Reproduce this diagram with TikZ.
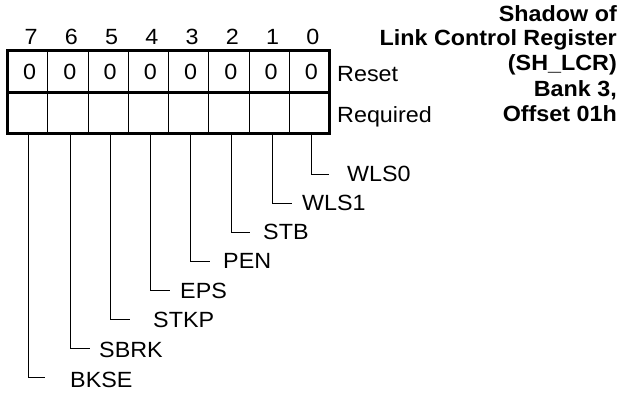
\documentclass[tikz,border=0pt]{standalone}
\usepackage{fontspec}
\setmainfont{Liberation Sans}[FakeStretch=1.06]
\begin{document}
\begin{tikzpicture}[x=1pt,y=-1pt,
  txt/.style={inner sep=0pt, font=\fontsize{22}{26}\selectfont},
  ttl/.style={inner sep=0pt, anchor=base east, font=\fontsize{22}{26}\selectfont\bfseries},
  thickline/.style={line width=3pt},
  thinline/.style={line width=1pt},
  conn/.style={line width=0.9pt}]
\useasboundingbox (0,0) rectangle (621,393);
% register box
\coordinate (boxtl) at (7.5,50.5);
\coordinate (boxbr) at (329.5,133.5);
\foreach \k in {1,...,7}{
  \coordinate (dt\k) at ({7.5+40.25*\k},50.5);
  \coordinate (db\k) at ({7.5+40.25*\k},133.5);
  \draw[thinline] (dt\k) -- (db\k);
}
\coordinate (ml) at (7.5,92.5);
\coordinate (mr) at (329.5,92.5);
\draw[thickline] (ml) -- (mr);
\draw[thickline] (boxtl) rectangle (boxbr);
% bit numbers and reset values
\foreach \b in {0,...,7}{
  \pgfmathsetmacro{\cx}{7.5+40.25*(7-\b)+20.125}
  \node[txt, anchor=base] (n\b) at (\cx+3.5,45) {\b};
  \node[txt] (r\b) at (\cx+2,71.5) {0};
}
\node[txt, anchor=base west] (reset) at (337,82) {Reset};
\node[txt, anchor=base west] (req) at (337,123) {Required};
% title
\node[ttl] (t1) at (617,22) {Shadow of};
\node[ttl] (t2) at (617,46) {Link Control Register};
\node[ttl] (t3) at (617,71) {(SH\_LCR)};
\node[ttl] (t4) at (617,97) {Bank 3,};
\node[ttl] (t5) at (617,122) {Offset 01h};
% field labels
\foreach \nm/\x/\y/\e/\s/\ty in {BKSE/28/377/45/70/380, SBRK/70/348/90/99/350, STKP/110/319/130/153/320,
  EPS/150/290/170/180/291, PEN/190/261/210/223/261, STB/231/232/250/263/232,
  WLS1/272/203/292/302/203, WLS0/311/174/329/347/174}{
  \coordinate (s\nm) at (\x,133.5);
  \coordinate (e\nm) at (\e,\y);
  \node[txt, anchor=west] (l\nm) at (\s,\ty) {\nm};
  \draw[conn] (s\nm) |- (e\nm);
}
\end{tikzpicture}
\end{document}
